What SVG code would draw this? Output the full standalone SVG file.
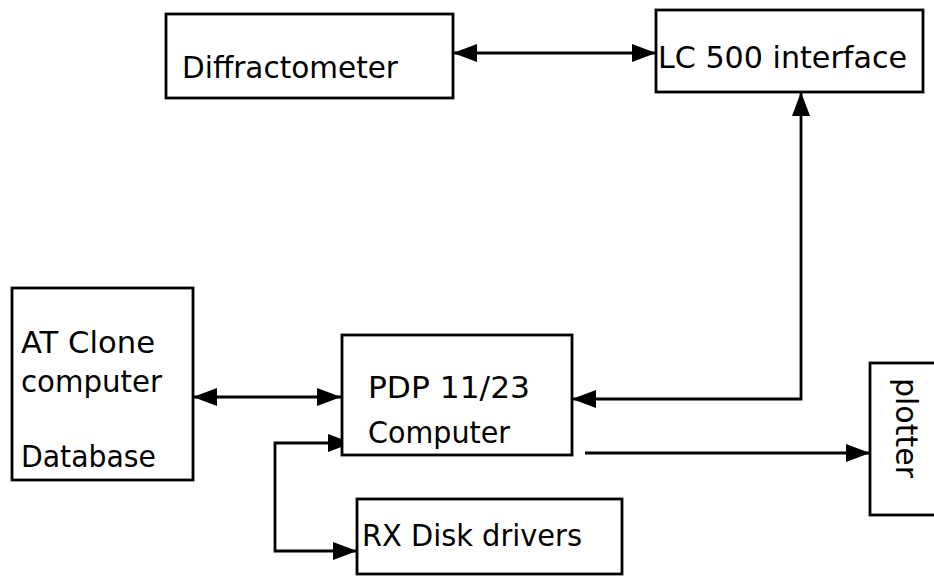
<svg xmlns="http://www.w3.org/2000/svg" width="934" height="576" viewBox="0 0 934 576">
<style>
.box{fill:#fff;stroke:#000;stroke-width:2.8}
.lbl{font-family:"DejaVu Sans","Liberation Sans",sans-serif;font-size:30px;fill:#000}
.con{fill:none;stroke:#000;stroke-width:2.8}
</style>
<defs>
<marker id="ah" markerUnits="userSpaceOnUse" markerWidth="26" markerHeight="20" refX="24" refY="9" orient="auto-start-reverse">
<path d="M0,0 L24,9 L0,18 z" fill="#000"/>
</marker>
</defs>
<rect width="934" height="576" fill="#fff"/>
<g id="connectors">
<path class="con" d="M453,53 H656" marker-start="url(#ah)" marker-end="url(#ah)"/>
<path class="con" d="M193,397 H341" marker-start="url(#ah)" marker-end="url(#ah)"/>
<path class="con" d="M572,399 H801 V92" marker-start="url(#ah)" marker-end="url(#ah)"/>
<path class="con" d="M585,453 H870" marker-end="url(#ah)"/>
<path class="con" d="M352,443 H275 V551 H357" marker-start="url(#ah)" marker-end="url(#ah)"/>
</g>
<g id="diffractometer">
<rect class="box" x="166" y="14" width="287" height="84"/>
<text class="lbl" x="182" y="78" textLength="216" lengthAdjust="spacingAndGlyphs">Diffractometer</text>
</g>
<g id="lc500">
<rect class="box" x="656" y="10" width="267" height="82"/>
<text class="lbl" x="658" y="68" textLength="249" lengthAdjust="spacingAndGlyphs">LC 500 interface</text>
</g>
<g id="atclone">
<rect class="box" x="12" y="288" width="181" height="192"/>
<text class="lbl" x="21" y="353" textLength="134" lengthAdjust="spacingAndGlyphs">AT Clone</text>
<text class="lbl" x="21" y="392" textLength="141" lengthAdjust="spacingAndGlyphs">computer</text>
<text class="lbl" x="21" y="467" textLength="135" lengthAdjust="spacingAndGlyphs">Database</text>
</g>
<g id="pdp">
<rect class="box" x="342" y="335" width="230" height="120"/>
<text class="lbl" x="368" y="398" textLength="162" lengthAdjust="spacingAndGlyphs">PDP 11/23</text>
<text class="lbl" x="368" y="443" textLength="142" lengthAdjust="spacingAndGlyphs">Computer</text>
</g>
<g id="rx">
<rect class="box" x="357" y="499" width="265" height="75"/>
<text class="lbl" x="362" y="546" textLength="220" lengthAdjust="spacingAndGlyphs">RX Disk drivers</text>
</g>
<g id="plotter">
<rect class="box" x="870" y="363" width="80" height="152"/>
<text class="lbl" transform="translate(896,378) rotate(90)" textLength="100" lengthAdjust="spacingAndGlyphs">plotter</text>
</g>
</svg>
